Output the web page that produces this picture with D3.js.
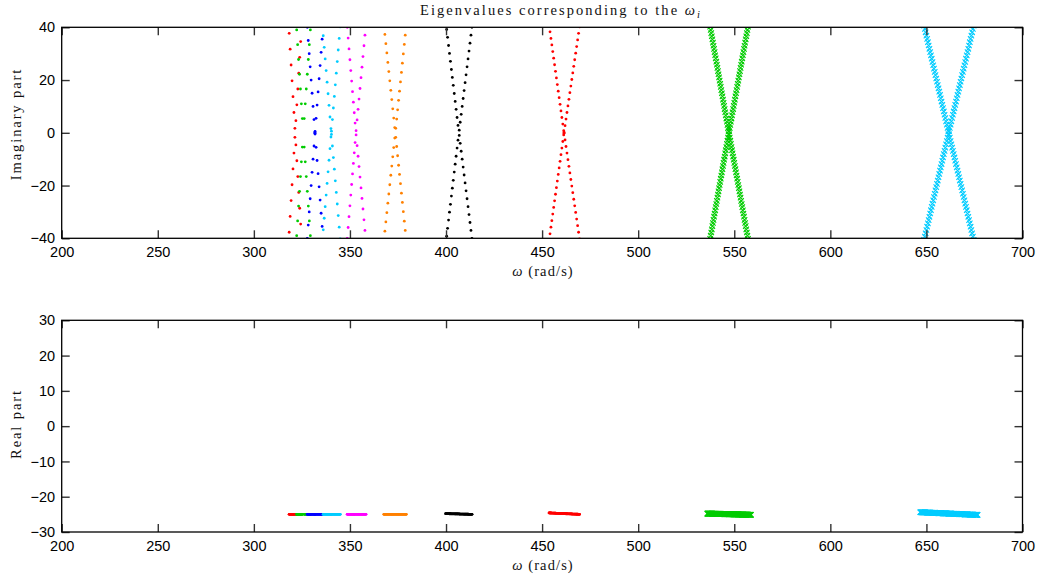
<!DOCTYPE html>
<html>
<head>
<meta charset="utf-8">
<script src="https://cdn.jsdelivr.net/npm/d3@7"></script>
<style>
  body { margin: 0; background: #fff; }
  .tick text { font-family: "Liberation Sans", Arial, sans-serif; font-size: 14.5px; fill: #000; }
  .lbl { font-family: "Liberation Serif", "DejaVu Serif", serif; fill: #111; }
</style>
</head>
<body>
<div id="chart"></div>
<script>
// axis ticks
const omegaTicks = [200, 250, 300, 350, 400, 450, 500, 550, 600, 650, 700];
const imagTicks = [-40, -20, 0, 20, 40];
const realTicks = [-30, -20, -10, 0, 10, 20, 30];

// one entry per omega_i
const modeColors = ["#ff0000", "#00cc00", "#0000ff", "#00ccff", "#ff00ff", "#ff8000", "#000000", "#ff0000", "#00cc00", "#00ccff"];
const modeMarkers = [".", ".", ".", ".", ".", ".", ".", ".", "x", "x"];
// omega where the two branches cross (Im = 0)
const crossOmega = [321.5, 325.7, 331.8, 340.3, 353.1, 373.6, 406.7, 461.4, 547.2, 661.6];
// omega of the left / right branch where |Im| = 40
const leftOmega40 = [318.2, 322.2, 327.8, 335.75, 348.6, 367.8, 400.2, 453.8, 537.5, 649.0];
const rightOmega40 = [324.8, 329.5, 336.0, 344.9, 358.2, 379.2, 413.5, 469.45, 557.1, 674.4];

// |Im| of the sampled eigenvalues on each branch (each one is a +/- pair)
const greenXImag = [0.6, 1.8, 3.0, 4.2, 5.4, 6.6, 7.8, 9.0, 10.2, 11.4, 12.6, 13.8, 15.0, 16.2, 17.4, 18.6, 19.8, 21.0, 22.2, 23.4, 24.6, 25.8, 27.0, 28.2, 29.4, 30.6, 31.8, 33.0, 34.2, 35.4, 36.6, 37.8, 39.0, 40.2, 41.4, 42.6, 43.8, 45.0, 46.2];
const cyanXImag = [0.6, 1.85, 3.1, 4.35, 5.6, 6.85, 8.1, 9.35, 10.6, 11.85, 13.1, 14.35, 15.6, 16.85, 18.1, 19.35, 20.6, 21.85, 23.1, 24.35, 25.6, 26.85, 28.1, 29.35, 30.6, 31.85, 33.1, 34.35, 35.6, 36.85, 38.1, 39.35, 40.6, 41.85, 43.1, 44.35, 45.6, 46.85];
const leftImag = [
  [37.7, 31.7, 25.7, 19.7, 13.7, 7.7, 1.7],
  [39, 33.4, 27.8, 22.2, 16.6, 11, 5.4],
  [40, 35, 30, 25, 20, 15, 10, 5, 0.2],
  [36.8, 32.4, 28, 23.6, 19.2, 14.8, 10.4, 6, 1.6],
  [40, 35.9, 31.8, 27.7, 23.6, 19.6, 15.6, 11.6, 7.6, 3.7],
  [40.8, 37.3, 33.8, 30.3, 26.7, 23.2, 19.7, 16.1, 12.6, 9.1, 5.6, 2.0],
  [42.2, 39.2, 36.2, 33.1, 30.1, 27.1, 24, 21, 18, 14.9, 11.9, 8.9, 5.8, 2.8],
  [40.8, 38.3, 35.8, 33.3, 30.8, 28.3, 25.8, 23.3, 20.8, 18.3, 15.8, 13.3, 10.8, 8.3, 5.8, 3.3, 0.8],
  greenXImag,
  cyanXImag
];
const rightImag = [
  [40.6, 34.6, 28.6, 22.6, 16.6, 10.6, 4.6],
  [39, 33.4, 27.8, 22.2, 16.6, 11, 5.4],
  [35.5, 30.5, 25.5, 20.5, 15.5, 10.5, 5.5, 0.5],
  [40.2, 35.8, 31.4, 27, 22.6, 18.2, 13.8, 9.4, 5, 0.6],
  [41, 37, 33, 28.9, 24.9, 20.9, 16.8, 12.8, 8.9, 4.9, 0.8],
  [40.5, 37, 33.5, 29.9, 26.4, 22.9, 19.3, 15.8, 12.3, 8.7, 5.2, 1.7],
  [40, 37, 34, 31, 28, 25, 22, 19, 16, 13, 10, 7, 4, 1],
  [40.2, 37.7, 35.2, 32.7, 30.2, 27.7, 25.2, 22.7, 20.2, 17.7, 15.2, 12.7, 10.2, 7.7, 5.2, 2.7, 0.2],
  greenXImag,
  cyanXImag
];
// real part at the left / right end of each sweep
const realLeft = [-25, -25, -25, -25, -25, -25, -24.8, -24.6, -24.8, -24.45];
const realRight = [-25, -25, -25, -25, -25, -25, -25, -25, -25.1, -25.1];

const W = 1042, H = 579;
const svg = d3.select("#chart").append("svg").attr("width", W).attr("height", H);

const x = d3.scaleLinear().domain([200, 700]).range([61.7, 1022.5]);
const yIm = d3.scaleLinear().domain([-40, 40]).range([238.3, 27.3]);
const yRe = d3.scaleLinear().domain([-30, 30]).range([532, 320.3]);

// build eigenvalue points
const points = [];
modeColors.forEach((color, m) => {
  const leftBranch = d3.scaleLinear().domain([0, 40]).range([crossOmega[m], leftOmega40[m]]);
  const rightBranch = d3.scaleLinear().domain([0, 40]).range([crossOmega[m], rightOmega40[m]]);
  const reScale = d3.scaleLinear().domain([leftOmega40[m], rightOmega40[m]]).range([realLeft[m], realRight[m]]);
  [[leftBranch, leftImag[m]], [rightBranch, rightImag[m]]].forEach(([branch, levels]) => {
    levels.forEach((im) => {
      const w = branch(im);
      [im, -im].forEach((v) => points.push({ m, w, im: v, re: reScale(w) }));
    });
  });
});

const xPath = (s) => `M${-s},${-s}L${s},${s}M${-s},${s}L${s},${-s}`;

function drawPanel(y, yTicks, clipId, valueKey) {
  const [x0, x1] = x.range();
  const [yb, yt] = y.range();

  svg.append("clipPath").attr("id", clipId)
    .append("rect").attr("x", x0).attr("y", yt).attr("width", x1 - x0).attr("height", yb - yt);

  const g = svg.append("g").attr("clip-path", `url(#${clipId})`);
  modeColors.forEach((color, m) => {
    const pts = points.filter((p) => p.m === m);
    if (modeMarkers[m] === "x") {
      g.selectAll(null).data(pts).enter().append("path")
        .attr("transform", (d) => `translate(${x(d.w)},${y(d[valueKey])})`)
        .attr("d", xPath(2.7))
        .attr("stroke", color).attr("stroke-width", 1.1).attr("fill", "none");
    } else {
      g.selectAll(null).data(pts).enter().append("circle")
        .attr("cx", (d) => x(d.w)).attr("cy", (d) => y(d[valueKey]))
        .attr("r", 1.4).attr("fill", color);
    }
  });

  // Axes, ticks pointing inward on all four sides
  const styleAxis = (sel) => {
    sel.select(".domain").remove();
    sel.selectAll(".tick line").attr("stroke", "#333").attr("stroke-width", 1.4);
  };
  svg.append("g").attr("transform", `translate(0,${yb})`)
    .call(d3.axisBottom(x).tickValues(omegaTicks).tickSize(-8).tickPadding(8.5).tickFormat(d3.format("d")))
    .call(styleAxis);
  svg.append("g").attr("transform", `translate(0,${yt})`)
    .call(d3.axisTop(x).tickValues(omegaTicks).tickSize(-8).tickFormat(""))
    .call(styleAxis);
  svg.append("g").attr("transform", `translate(${x0},0)`)
    .call(d3.axisLeft(y).tickValues(yTicks).tickSize(-8).tickPadding(6.5))
    .call(styleAxis);
  svg.append("g").attr("transform", `translate(${x1},0)`)
    .call(d3.axisRight(y).tickValues(yTicks).tickSize(-8).tickFormat(""))
    .call(styleAxis);

  svg.append("rect").attr("x", x0).attr("y", yt).attr("width", x1 - x0).attr("height", yb - yt)
    .attr("fill", "none").attr("stroke", "#000").attr("stroke-width", 1.3);
}

drawPanel(yIm, imagTicks, "clipTop", "im");
drawPanel(yRe, realTicks, "clipBottom", "re");

// Title
const title = svg.append("text").attr("class", "lbl")
  .attr("x", 420).attr("y", 15).attr("font-size", 14.5)
  .attr("textLength", 280).attr("lengthAdjust", "spacing");
title.append("tspan").text("Eigenvalues corresponding to the ");
title.append("tspan").attr("font-style", "italic").text("ω");
title.append("tspan").attr("font-style", "italic").attr("font-size", 10.5).attr("dy", 3).text("i");

// x labels
[276, 570].forEach((yy) => {
  const t = svg.append("text").attr("class", "lbl").attr("x", 543).attr("y", yy)
    .attr("text-anchor", "middle").attr("font-size", 14.5).attr("letter-spacing", 1.1);
  t.append("tspan").attr("font-style", "italic").text("ω");
  t.append("tspan").text(" (rad/s)");
});

// y labels
svg.append("text").attr("class", "lbl")
  .attr("transform", "translate(21,124) rotate(-90)")
  .attr("text-anchor", "middle").attr("font-size", 14.5).attr("letter-spacing", 1.9)
  .text("Imaginary part");
svg.append("text").attr("class", "lbl")
  .attr("transform", "translate(21,424) rotate(-90)")
  .attr("text-anchor", "middle").attr("font-size", 14.5).attr("letter-spacing", 1.9)
  .text("Real part");
</script>
</body>
</html>
